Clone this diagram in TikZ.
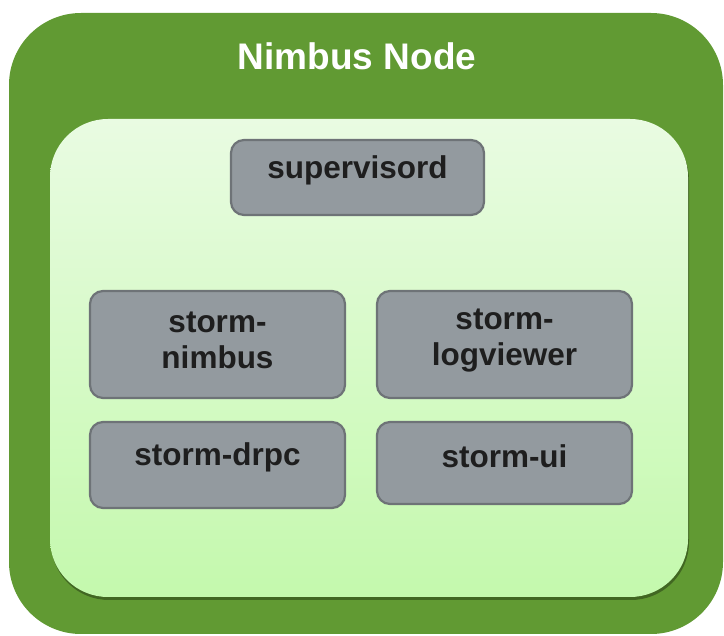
\documentclass[tikz,border=0pt]{standalone}
\usepackage{fontspec}
\setmainfont{Liberation Sans}
\definecolor{outergreen}{HTML}{619A33}
\definecolor{innertop}{HTML}{E9FBE2}
\definecolor{innerbot}{HTML}{C4F9AD}
\definecolor{boxgray}{HTML}{939A9F}
\definecolor{boxedge}{HTML}{6E7377}
\definecolor{txtdark}{HTML}{1E1E1E}
\tikzset{
  procbox/.style={draw=boxedge, line width=2.2pt, fill=boxgray, rounded corners=13pt, inner sep=0pt},
  proctext/.style={font=\bfseries\fontsize{31.5}{36}\selectfont, text=txtdark, align=center, inner sep=0pt},
}
\begin{document}
\begin{tikzpicture}[x=1pt,y=-1pt]
\useasboundingbox (0,0) rectangle (724,636);
\fill[outergreen, rounded corners=72pt] (9,13) rectangle (723,634);
\node[text=white, font=\bfseries\fontsize{37}{40}\selectfont] (title) at (357,56) {Nimbus Node};
\fill[black!55!outergreen, opacity=0.6, rounded corners=58pt] (51,122) rectangle (689,600);
\shade[top color=innertop, bottom color=innerbot, rounded corners=58pt] (50,119) rectangle (688,597);
\node[procbox, minimum width=253pt, minimum height=75pt] (sup) at (357.5,177.5) {};
\node[procbox, minimum width=255pt, minimum height=107pt] (nim) at (217.5,344.5) {};
\node[procbox, minimum width=255pt, minimum height=107pt] (log) at (504.5,344.5) {};
\node[procbox, minimum width=255pt, minimum height=86pt] (drpc) at (217.5,465) {};
\node[procbox, minimum width=255pt, minimum height=82pt] (ui) at (504.5,463) {};
\node[proctext] (supt) at ([yshift=7pt]sup.center) {supervisord};
\node[proctext] (nimt) at ([yshift=4pt]nim.center) {storm-\\nimbus};
\node[proctext] (logt) at ([yshift=4pt]log.center) {storm-\\logviewer};
\node[proctext] (drpct) at ([yshift=8pt]drpc.center) {storm-drpc};
\node[proctext] (uit) at ([yshift=7pt]ui.center) {storm-ui};
\end{tikzpicture}
\end{document}
